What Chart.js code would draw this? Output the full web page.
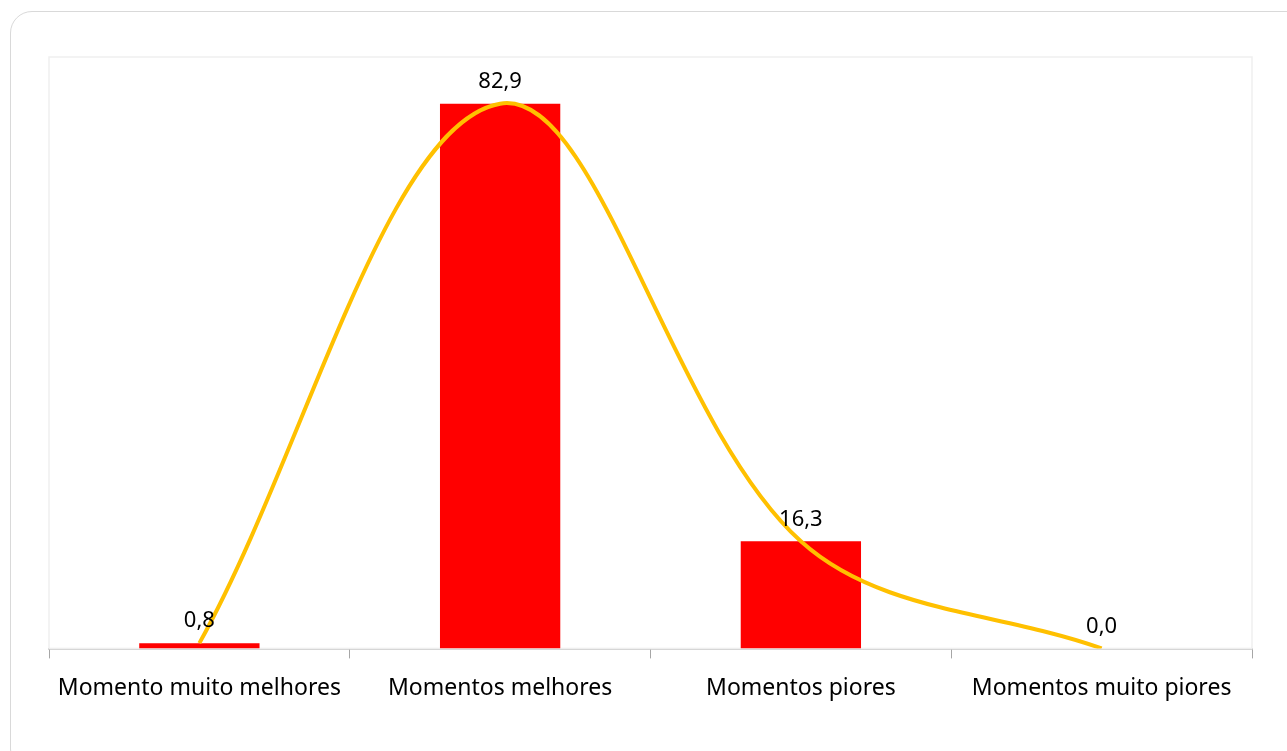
<!DOCTYPE html>
<html lang="pt">
<head>
  <meta charset="UTF-8">
  <title>Momentos</title>
  <script src="https://cdn.jsdelivr.net/npm/chart.js"></script>
  <style>
    html, body { margin: 0; padding: 0; background: #fff; overflow: hidden; }
    #card {
      position: absolute; left: 10px; top: 11px; width: 1300px; height: 760px;
      border: 1px solid #d9d9d9; border-radius: 22px; box-sizing: border-box;
    }
    #wrap { position: absolute; left: 0; top: 0; width: 1287px; height: 751px; }
  </style>
</head>
<body>
  <div id="card"></div>
  <div id="wrap"><canvas id="myChart"></canvas></div>
  <script>
    // chart data
    const categories = ['Momento muito melhores', 'Momentos melhores', 'Momentos piores', 'Momentos muito piores'];
    const percentages = [0.8, 82.9, 16.3, 0.0];
    const trendValues = [0.8, 82.9, 16.3, 0.0];

    // faint box around the plot area
    const plotBox = {
      id: 'plotBox',
      beforeDatasetsDraw(chart) {
        const { ctx, chartArea: a } = chart;
        ctx.save();
        ctx.strokeStyle = '#efefef';
        ctx.lineWidth = 1.5;
        ctx.strokeRect(a.left, a.top, a.right - a.left, a.bottom - a.top);
        ctx.restore();
      }
    };

    // value labels above the bars (pt-BR decimal comma)
    const valueLabels = {
      id: 'valueLabels',
      afterDatasetsDraw(chart) {
        const { ctx } = chart;
        const meta = chart.getDatasetMeta(1);
        ctx.save();
        ctx.font = '22px "Noto Sans", sans-serif';
        ctx.fillStyle = '#000';
        ctx.textAlign = 'center';
        ctx.textBaseline = 'middle';
        meta.data.forEach((bar, i) => {
          const txt = percentages[i].toFixed(1).replace('.', ',');
          ctx.fillText(txt, bar.x, bar.y - 22);
        });
        ctx.restore();
      }
    };

    new Chart(document.getElementById('myChart'), {
      data: {
        labels: categories,
        datasets: [
          {
            type: 'line',
            data: trendValues,
            borderColor: '#ffc000',
            borderWidth: 4,
            pointRadius: 0,
            tension: 0.35,
            fill: false,
            order: 0
          },
          {
            type: 'bar',
            data: percentages,
            backgroundColor: '#ff0000',
            barPercentage: 0.4,
            categoryPercentage: 1,
            order: 1
          }
        ]
      },
      options: {
        responsive: true,
        maintainAspectRatio: false,
        animation: false,
        layout: { padding: { left: 49, right: 35, top: 57, bottom: 33 } },
        plugins: { legend: { display: false }, tooltip: { enabled: false } },
        scales: {
          x: {
            offset: true,
            grid: { offset: true, drawOnChartArea: false, color: '#a6a6a6', tickLength: 10 },
            border: { color: '#a6a6a6', width: 1.5 },
            ticks: { color: '#000', font: { family: 'Noto Sans', size: 23 }, padding: 16, maxRotation: 0 }
          },
          y: {
            display: false,
            min: 0,
            max: 90
          }
        }
      },
      plugins: [plotBox, valueLabels]
    });
  </script>
</body>
</html>
